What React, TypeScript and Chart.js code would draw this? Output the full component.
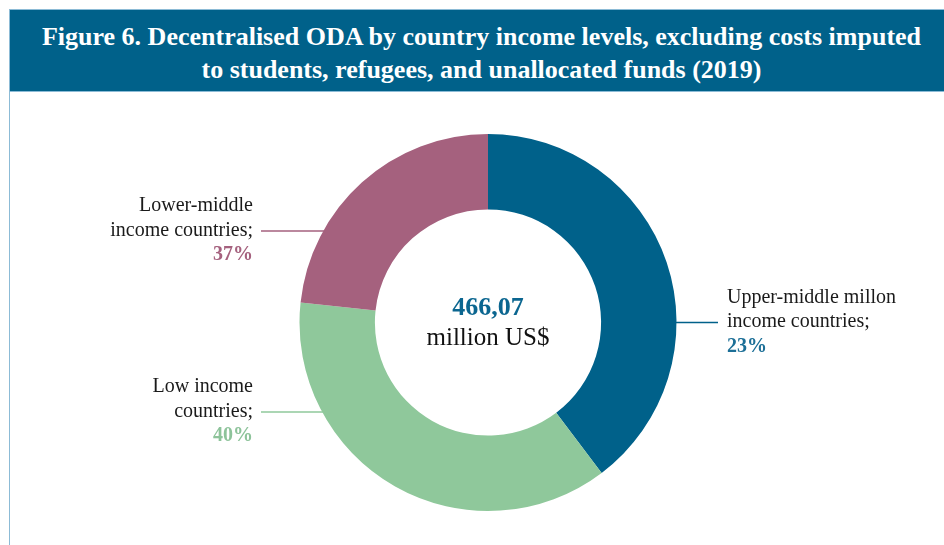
import React, { useEffect, useRef } from "react";
import { Chart, registerables } from "chart.js";

Chart.register(...registerables);

// ---- data ----
const categories = [
  "Upper-middle millon income countries",
  "Low income countries",
  "Lower-middle income countries",
];
const sliceValues = [39.7, 37.0, 23.3];
const labelLines = [
  ["Upper-middle millon", "income countries;"],
  ["Low income", "countries;"],
  ["Lower-middle", "income countries;"],
];
const labelPercents = ["23%", "40%", "37%"];
const totalValue = "466,07";
const totalUnit = "million US$";
const titleLines = [
  "Figure 6. Decentralised ODA by country income levels, excluding costs imputed",
  "to students, refugees, and unallocated funds (2019)",
];

// ---- styles ----
const sliceColors = ["#00618A", "#8FC89B", "#A5617E"];
const percentColors = ["#1C6F97", "#8DC39A", "#A5617E"];
const BANNER = "#00618A";
const FRAME = "#8CBBD6";
const SERIF = "'Liberation Serif', 'DejaVu Serif', serif";

// label placement: side, leader y offset from centre, text anchor x, leader outer x
const labelLayout = [
  { side: "right", dy: 0, textX: 727, lineEnd: 718 },
  { side: "left", dy: 89.5, textX: 253, lineEnd: 261 },
  { side: "left", dy: -91.5, textX: 253, lineEnd: 261 },
];

const labelPlugin = {
  id: "donutLabels",
  afterDraw(chart: any) {
    const meta = chart.getDatasetMeta(0);
    const arc = meta.data[0];
    if (!arc) return;
    const cx = arc.x;
    const cy = arc.y;
    const R = arc.outerRadius;
    const ctx = chart.ctx;
    ctx.save();
    labelLayout.forEach((lay, i) => {
      const ly = cy + lay.dy;
      const half = Math.sqrt(Math.max(R * R - lay.dy * lay.dy, 0));
      const edgeX = lay.side === "left" ? cx - half : cx + half;
      ctx.strokeStyle = sliceColors[i];
      ctx.lineWidth = 1.5;
      ctx.beginPath();
      ctx.moveTo(lay.lineEnd, ly);
      ctx.lineTo(edgeX + (lay.side === "left" ? 1 : -1), ly);
      ctx.stroke();

      ctx.textAlign = lay.side === "left" ? "right" : "left";
      ctx.textBaseline = "middle";
      ctx.font = `20px ${SERIF}`;
      ctx.fillStyle = "#1a1a1a";
      const lines = labelLines[i];
      ctx.fillText(lines[0], lay.textX, ly - 25);
      ctx.fillText(lines[1], lay.textX, ly - 0.5);
      ctx.fillStyle = percentColors[i];
      ctx.font = `bold 20px ${SERIF}`;
      ctx.fillText(labelPercents[i], lay.textX, ly + 24);
    });
    ctx.textAlign = "center";
    ctx.textBaseline = "middle";
    ctx.fillStyle = "#0B6690";
    ctx.font = `bold 26px ${SERIF}`;
    ctx.fillText(totalValue, cx, cy - 14.5);
    ctx.fillStyle = "#111111";
    ctx.font = `25px ${SERIF}`;
    ctx.fillText(totalUnit, cx, cy + 15.5);
    ctx.restore();
  },
};

export default function App() {
  const canvasRef = useRef<HTMLCanvasElement | null>(null);

  useEffect(() => {
    if (!canvasRef.current) return;
    const chart = new Chart(canvasRef.current, {
      type: "doughnut",
      data: {
        labels: categories,
        datasets: [
          {
            data: sliceValues,
            backgroundColor: sliceColors,
            borderWidth: 0,
            hoverOffset: 0,
          },
        ],
      },
      options: {
        animation: false,
        responsive: false,
        maintainAspectRatio: false,
        cutout: "60%",
        layout: { padding: { left: 299.5, right: 267.5, top: 134, bottom: 34 } },
        plugins: {
          legend: { display: false },
          tooltip: { enabled: false },
          title: { display: false },
        },
        events: [],
      },
      plugins: [labelPlugin],
    });
    return () => chart.destroy();
  }, []);

  return (
    <div
      style={{
        position: "fixed",
        left: 0,
        top: 0,
        width: 944,
        height: 545,
        overflow: "hidden",
        background: "#ffffff",
      }}
    >
      <div
        style={{
          position: "absolute",
          left: 9,
          top: 9,
          width: 950,
          height: 560,
          borderLeft: `1px solid ${FRAME}`,
          borderTop: `1px solid ${FRAME}`,
        }}
      />
      <div
        style={{
          position: "absolute",
          left: 10,
          top: 10,
          width: 943,
          height: 82,
          background: BANNER,
          borderBottom: `1px solid ${FRAME}`,
          color: "#ffffff",
          fontFamily: SERIF,
          fontWeight: "bold",
          fontSize: 26,
          lineHeight: "33px",
          textAlign: "center",
          paddingTop: 10,
          boxSizing: "border-box",
        }}
      >
        {titleLines.map((t, i) => (
          <div key={i} style={{ whiteSpace: "nowrap" }}>
            {t}
          </div>
        ))}
      </div>
      <canvas
        ref={canvasRef}
        width={944}
        height={545}
        style={{ position: "absolute", left: 0, top: 0, width: 944, height: 545 }}
      />
    </div>
  );
}
